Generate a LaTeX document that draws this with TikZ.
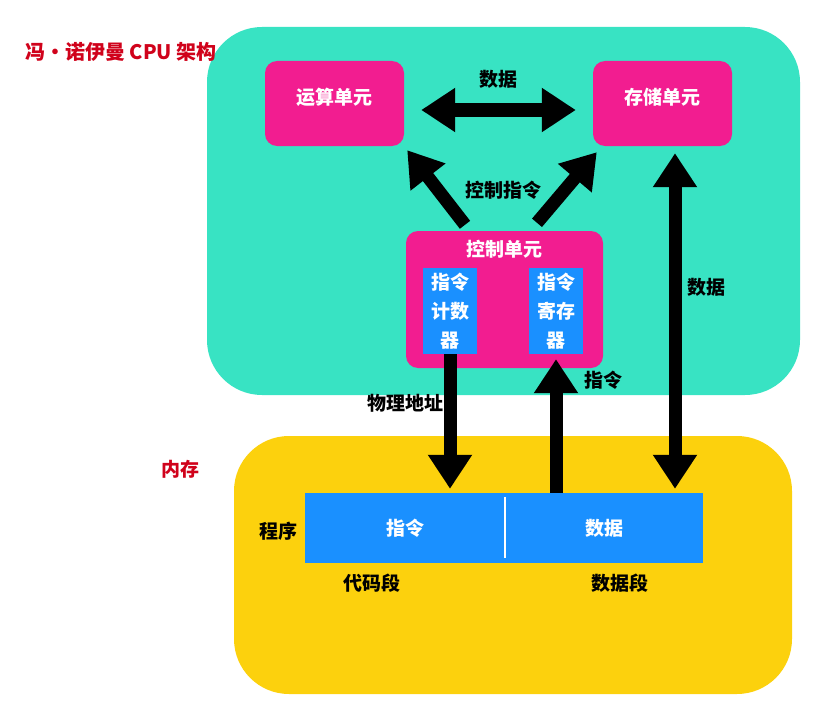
\documentclass[tikz,border=0pt]{standalone}
\usepackage{fontspec}
\setmainfont{Noto Sans CJK SC}
\usetikzlibrary{arrows.meta, positioning, calc}
\definecolor{cputeal}{HTML}{38E3C3}
\definecolor{memyellow}{HTML}{FCD10D}
\definecolor{unitpink}{HTML}{F21D90}
\definecolor{regblue}{HTML}{1A90FF}
\definecolor{titlered}{HTML}{D0021B}

\begin{document}
\begin{tikzpicture}[x=1pt, y=-1pt, font=\fontsize{19}{23}\selectfont\bfseries,
    area/.style={rounded corners=55pt, inner sep=0pt},
    unitbox/.style={fill=unitpink, rounded corners=12pt, text=white, inner sep=0pt,
        text height=16pt, text depth=13pt},
    regbox/.style={fill=regblue, text=white, align=center, inner sep=0pt,
        font=\fontsize{19}{29}\selectfont\bfseries},
    fat/.style={line width=13pt, -{Triangle[width=42pt,length=34pt]}},
    fatboth/.style={line width=13pt, {Triangle[width=42pt,length=34pt]}-{Triangle[width=42pt,length=34pt]}}]
    \useasboundingbox (0,0) rectangle (828,725);

    % two areas
    \node[area, fill=cputeal, minimum width=593pt, minimum height=368pt] (cpu) at (503.5,211) {};
    \node[area, fill=memyellow, minimum width=558pt, minimum height=258pt] (mem) at (513,565) {};
    \node[text=titlered, font=\fontsize{20}{24}\selectfont\bfseries] (title) at (121,52) {冯·诺伊曼 CPU 架构};
    \node[text=titlered] (memtitle) at (180,469) {内存};

    % units in the cpu
    \node[unitbox, minimum width=139pt, minimum height=85pt] (alu) at (334.5,103.5) {运算单元};
    \node[unitbox, minimum width=139pt, minimum height=85pt] (store) at (662.5,103.5) {存储单元};
    \node[unitbox, minimum width=197pt, minimum height=137pt] (cu) at (504.5,299.5) {};
    \node[text=white] (cutitle) at ([shift={(0,18)}]cu.north) {控制单元};
    \node[regbox, minimum width=54pt, minimum height=86pt] (pc) at (450,311) {指令\\计数\\器};
    \node[regbox, minimum width=54pt, minimum height=86pt] (ir) at (556,311) {指令\\寄存\\器};

    % program in memory
    \node[fill=regblue, text=white, minimum width=200pt, minimum height=70pt, inner sep=0pt] (codeseg) at (405,528) {指令};
    \node[fill=regblue, text=white, minimum width=198pt, minimum height=70pt, inner sep=0pt] (dataseg) at (604,528) {数据};
    \draw[white, line width=1.5pt] ([shift={(0,4)}]codeseg.north east) -- ([shift={(0,-5)}]codeseg.south east);
    \node (prog) at (278,531) {程序};
    \node (codelbl) at (372,583) {代码段};
    \node (datalbl) at (620,583) {数据段};

    % arrows
    \draw[fatboth] ([shift={(17,6.5)}]alu.east) -- ([shift={(-17,6.5)}]store.west)
        node[midway, above=12pt] {数据};
    \draw[fat] ([shift={(-39.5,-6)}]cu.north) -- ([shift={(3,4)}]alu.south east);
    \draw[fat] ([shift={(32.5,-8)}]cu.north) -- ([shift={(4,6)}]store.south west);
    \node (ctrllbl) at (503,190) {控制指令};

    \coordinate (pcbot) at (pc.south |- codeseg.north);
    \coordinate (irbot) at (ir.south |- codeseg.north);
    \coordinate (storebot) at ([shift={(12.5,0)}]store.south |- dataseg.north);
    \draw[fat] (pc.south) -- ([shift={(0,-4)}]pcbot);
    \draw[fat] (irbot) -- ([shift={(0,5)}]ir.south);
    \draw[fatboth] ([shift={(12.5,7)}]store.south) -- ([shift={(0,-4)}]storebot);
    \node (addrlbl) at (405,403) {物理地址};
    \node (instlbl) at (603,380) {指令};
    \node (datavlbl) at (706,287) {数据};
\end{tikzpicture}
\end{document}
